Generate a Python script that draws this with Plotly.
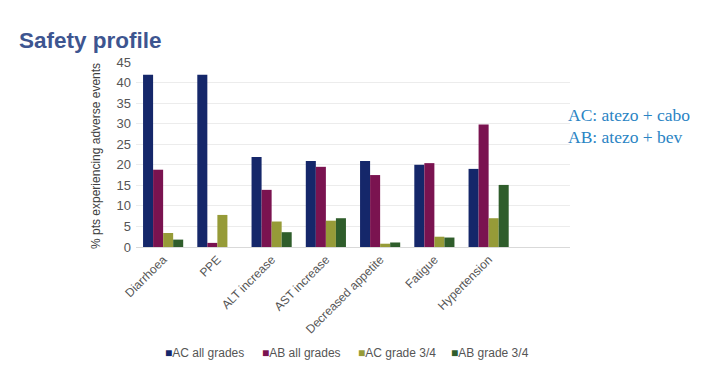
import plotly.graph_objects as go

categories = ["Diarrhoea", "PPE", "ALT increase", "AST increase", "Decreased appetite", "Fatigue", "Hypertension"]
ac_all = [41.9, 41.9, 21.9, 20.9, 20.9, 20.0, 19.0]
ab_all = [18.8, 1.0, 13.9, 19.5, 17.5, 20.4, 29.8]
ac_34 = [3.4, 7.8, 6.2, 6.4, 0.8, 2.5, 7.0]
ab_34 = [1.8, 0.0, 3.6, 7.0, 1.1, 2.3, 15.1]
series_names = ["AC all grades", "AB all grades", "AC grade 3/4", "AB grade 3/4"]
colors = ["#15276a", "#7a1350", "#969b38", "#2f5d2b"]
y_ticks = [0, 5, 10, 15, 20, 25, 30, 35, 40, 45]

OFF = 8  # page body margin
W, H = 710 - OFF, 365 - OFF
L, R, T, B = 136 - OFF, 140, 62 - OFF, 118
PW, PH = W - L - R, H - T - B


def px(x):
    return (x - OFF - L) / PW


def py(y):
    return (H - B - (y - OFF)) / PH


fig = go.Figure()
for name, vals, col in zip(series_names, [ac_all, ab_all, ac_34, ab_34], colors):
    fig.add_trace(go.Bar(x=categories, y=vals, name=name, marker_color=col,
                         marker_line_width=0))

fig.update_layout(
    width=W, height=H,
    margin=dict(l=L, r=R, t=T, b=B, autoexpand=False),
    paper_bgcolor="white", plot_bgcolor="white",
    barmode="group", bargap=0.26, bargroupgap=0,
    font=dict(family="Liberation Sans, Arial, sans-serif", color="#555555"),
    xaxis=dict(range=[-0.5, 7.5], tickangle=-45, tickfont=dict(size=12, color="#555555"),
               showgrid=False, showline=True, linecolor="#d9d9d9", ticks="", automargin=False),
    yaxis=dict(range=[0, 45], tickvals=y_ticks, tickfont=dict(size=13, color="#555555"),
               showgrid=True, gridcolor="#ececec", zeroline=False, automargin=False,
               ticklabelstandoff=4),
    showlegend=False,
)

# legend drawn as text entries
legend_x = [163, 260, 356, 449]
for name, col, lx in zip(series_names, colors, legend_x):
    fig.add_annotation(text=f'<span style="color:{col}">■</span>{name}', xref="paper", yref="paper",
                       x=px(lx), y=py(353), xanchor="left", yanchor="middle",
                       showarrow=False, font=dict(size=12, color="#555555"))

fig.add_annotation(text="% pts experiencing adverse events", xref="paper", yref="paper",
                   x=px(96), y=py(156), xanchor="center", yanchor="middle", textangle=-90,
                   showarrow=False, font=dict(size=12, color="#404040"))
fig.add_annotation(text="<b>Safety profile</b>", xref="paper", yref="paper",
                   x=px(17), y=py(40), xanchor="left", yanchor="middle",
                   showarrow=False, font=dict(size=22.5, color="#3d5590", family="Liberation Sans, Arial, sans-serif"))
fig.add_annotation(text="AC: atezo + cabo", xref="paper", yref="paper",
                   x=px(566), y=py(115), xanchor="left", yanchor="middle",
                   showarrow=False, font=dict(size=17.5, color="#2a84c4", family="Liberation Serif, Times New Roman, serif"))
fig.add_annotation(text="AB: atezo + bev", xref="paper", yref="paper",
                   x=px(566), y=py(137), xanchor="left", yanchor="middle",
                   showarrow=False, font=dict(size=17.5, color="#2a84c4", family="Liberation Serif, Times New Roman, serif"))

fig.write_html("out.html")
